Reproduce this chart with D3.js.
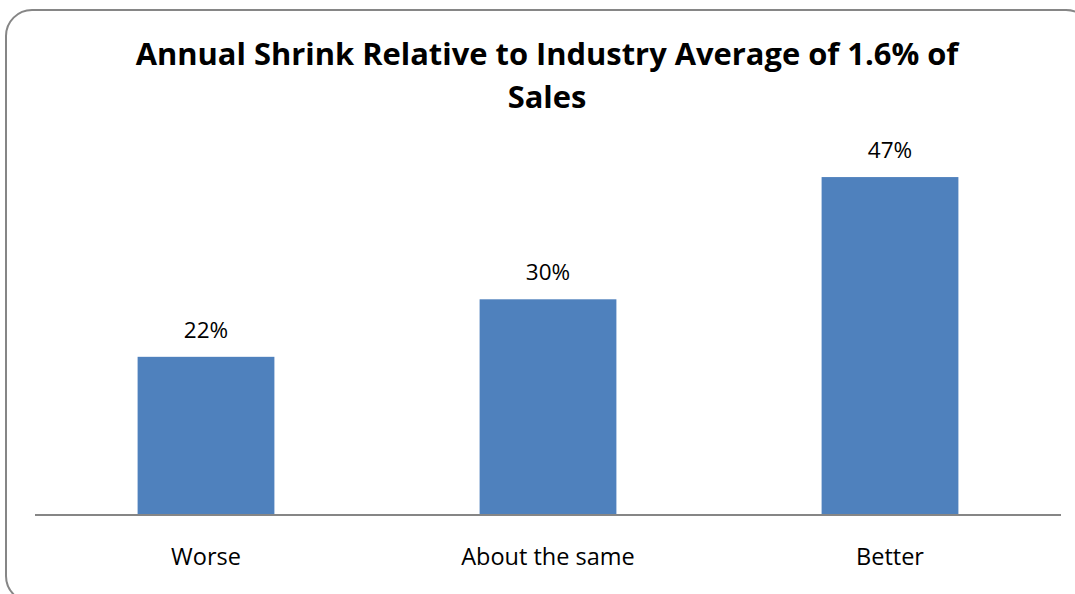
<!DOCTYPE html>
<html>
<head>
<meta charset="utf-8">
<script src="https://cdn.jsdelivr.net/npm/d3@7"></script>
<style>
  html, body { margin: 0; padding: 0; background: #fff; }
  svg { display: block; }
</style>
</head>
<body>
<svg id="chart" width="1075" height="594"></svg>
<script>
const titleLines = ["Annual Shrink Relative to Industry Average of 1.6% of", "Sales"];
const categories = ["Worse", "About the same", "Better"];
const values = [22, 30, 47];
const yDomain = [0, 50];

const W = 1075, H = 594;
const svg = d3.select("#chart");
const font = "'Open Sans', 'Liberation Sans', sans-serif";

// Chart frame
svg.append("rect")
  .attr("x", 6).attr("y", 10)
  .attr("width", 1086).attr("height", 592)
  .attr("rx", 26).attr("ry", 26)
  .attr("fill", "#fff")
  .attr("stroke", "#868686")
  .attr("stroke-width", 2);

const plot = { left: 35, right: 1061, top: 155.5, bottom: 515 };

const x = d3.scaleBand()
  .domain(categories)
  .range([plot.left, plot.right])
  .paddingInner(0.6)
  .paddingOuter(0.3);

const y = d3.scaleLinear()
  .domain(yDomain)
  .range([plot.bottom, plot.top]);

// Bars
svg.append("g").selectAll("rect")
  .data(values)
  .join("rect")
  .attr("x", (d, i) => x(categories[i]))
  .attr("y", d => y(d))
  .attr("width", x.bandwidth())
  .attr("height", d => y(0) - y(d))
  .attr("fill", "#4F81BD");

// Value labels
svg.append("g").selectAll("text")
  .data(values)
  .join("text")
  .attr("x", (d, i) => x(categories[i]) + x.bandwidth() / 2)
  .attr("y", d => y(d) - 19)
  .attr("text-anchor", "middle")
  .attr("font-family", font)
  .attr("font-size", 22.5)
  .attr("fill", "#000")
  .text(d => d + "%");

// X axis
const xAxis = svg.append("g")
  .attr("transform", `translate(0,${plot.bottom})`)
  .call(d3.axisBottom(x).tickSize(0).tickPadding(0));
xAxis.select(".domain")
  .attr("d", `M${plot.left},0H${plot.right}`)
  .attr("stroke", "#868686")
  .attr("stroke-width", 2);
xAxis.selectAll(".tick text")
  .attr("dy", 0)
  .attr("y", 50)
  .attr("font-family", font)
  .attr("font-size", 23.5)
  .attr("fill", "#000");

// Title
const title = svg.append("text")
  .attr("text-anchor", "middle")
  .attr("font-family", font)
  .attr("font-weight", "bold")
  .attr("font-size", 26)
  .attr("fill", "#000");
title.selectAll("tspan")
  .data(titleLines)
  .join("tspan")
  .attr("x", 547)
  .attr("y", (d, i) => 65 + i * 43)
  .text(d => d);

// fit first title line width to ~823px
const first = title.select("tspan").node();
const len = first.getComputedTextLength();
if (len > 0) {
  const fs = 26 * 823 / len;
  title.attr("font-size", Math.max(20, Math.min(32, fs)));
}
</script>
</body>
</html>
